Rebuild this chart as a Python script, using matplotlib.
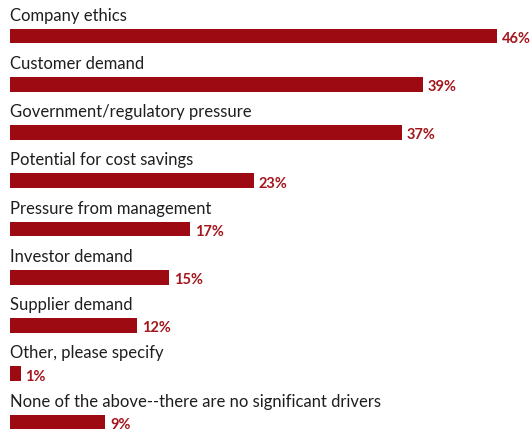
import matplotlib.pyplot as plt

labels = [
    "Company ethics",
    "Customer demand",
    "Government/regulatory pressure",
    "Potential for cost savings",
    "Pressure from management",
    "Investor demand",
    "Supplier demand",
    "Other, please specify",
    "None of the above--there are no significant drivers",
]
values = [46, 39, 37, 23, 17, 15, 12, 1, 9]

bar_color = "#9e0a12"
text_color = "#1e1e1e"

fig = plt.figure(figsize=(5.32, 4.32), dpi=100)
ax = fig.add_axes([10 / 532, 0, 522 / 532, 1])

ypos = list(range(len(values)))
ax.barh(ypos, values, height=0.31, color=bar_color, left=0)

for y, lab, v in zip(ypos, labels, values):
    ax.text(0, y - 0.42, lab, fontsize=12, color=text_color,
            family="Lato", va="center", ha="left")
    ax.text(v + 0.45, y + 0.06, f"{v}%", fontsize=10.5, fontweight="bold",
            color="#a3161c", family="Lato", va="center", ha="left")

ax.set_xlim(0, 522 / 10.59)
ax.set_ylim(8 + 10 / 48.25, -36 / 48.25)
ax.axis("off")

fig.savefig("out.png", dpi=100)
